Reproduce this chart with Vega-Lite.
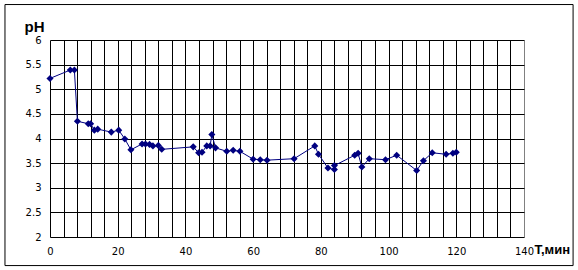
{
  "$schema": "https://vega.github.io/schema/vega-lite/v6.json",
  "width": 474,
  "height": 197,
  "autosize": "none",
  "padding": {"left": 50, "top": 40, "right": 54, "bottom": 33},
  "background": "white",
  "config": {"view": {"stroke": null}},
  "datasets": {
    "ph": [
      {"i": 1, "t": 0, "ph": 5.22},
      {"i": 2, "t": 6.0, "ph": 5.39},
      {"i": 3, "t": 7.2, "ph": 5.39},
      {"i": 4, "t": 8.1, "ph": 4.35},
      {"i": 5, "t": 11.3, "ph": 4.3},
      {"i": 6, "t": 12.0, "ph": 4.3},
      {"i": 7, "t": 13.1, "ph": 4.17},
      {"i": 8, "t": 14.1, "ph": 4.19},
      {"i": 9, "t": 18.1, "ph": 4.13},
      {"i": 10, "t": 20.3, "ph": 4.17},
      {"i": 11, "t": 22.1, "ph": 3.99},
      {"i": 12, "t": 23.9, "ph": 3.77},
      {"i": 13, "t": 27.2, "ph": 3.89},
      {"i": 14, "t": 28.2, "ph": 3.89},
      {"i": 15, "t": 29.4, "ph": 3.88},
      {"i": 16, "t": 30.4, "ph": 3.85},
      {"i": 17, "t": 32.0, "ph": 3.86},
      {"i": 18, "t": 33.0, "ph": 3.78},
      {"i": 19, "t": 42.3, "ph": 3.83},
      {"i": 20, "t": 43.9, "ph": 3.71},
      {"i": 21, "t": 44.9, "ph": 3.72},
      {"i": 22, "t": 46.3, "ph": 3.85},
      {"i": 23, "t": 47.3, "ph": 3.85},
      {"i": 24, "t": 47.8, "ph": 4.08},
      {"i": 25, "t": 48.9, "ph": 3.81},
      {"i": 26, "t": 52.2, "ph": 3.74},
      {"i": 27, "t": 54.1, "ph": 3.76},
      {"i": 28, "t": 56.1, "ph": 3.74},
      {"i": 29, "t": 60.0, "ph": 3.58},
      {"i": 30, "t": 62.1, "ph": 3.57},
      {"i": 31, "t": 64.1, "ph": 3.56},
      {"i": 32, "t": 72.1, "ph": 3.59},
      {"i": 33, "t": 78.2, "ph": 3.85},
      {"i": 34, "t": 79.3, "ph": 3.68},
      {"i": 35, "t": 82.1, "ph": 3.4},
      {"i": 36, "t": 84.0, "ph": 3.37},
      {"i": 37, "t": 84.0, "ph": 3.45},
      {"i": 38, "t": 90.0, "ph": 3.66},
      {"i": 39, "t": 91.0, "ph": 3.7},
      {"i": 40, "t": 92.1, "ph": 3.42},
      {"i": 41, "t": 94.3, "ph": 3.59},
      {"i": 42, "t": 99.1, "ph": 3.57},
      {"i": 43, "t": 102.4, "ph": 3.66},
      {"i": 44, "t": 108.3, "ph": 3.35},
      {"i": 45, "t": 110.3, "ph": 3.55},
      {"i": 46, "t": 112.9, "ph": 3.71},
      {"i": 47, "t": 117.0, "ph": 3.68},
      {"i": 48, "t": 119.0, "ph": 3.7},
      {"i": 49, "t": 120.0, "ph": 3.72}
    ],
    "frame": [{"t": -13.3, "t2": 154.5, "ph": 6.72, "ph2": 1.42}]
  },
  "encoding": {
    "x": {
      "field": "t", "type": "quantitative",
      "scale": {"domain": [0, 140], "nice": false, "zero": false},
      "axis": {
        "values": [0, 4, 8, 12, 16, 20, 24, 28, 32, 36, 40, 44, 48, 52, 56, 60, 64, 68, 72, 76, 80, 84, 88, 92, 96, 100, 104, 108, 112, 116, 120, 124, 128, 132, 136, 140],
        "labelExpr": "datum.value % 20 === 0 ? datum.label : ''",
        "grid": true,
        "gridColor": {"condition": {"test": "datum.value === 140", "value": "#808080"}, "value": "black"},
        "gridOpacity": 1,
        "gridWidth": 1,
        "domain": false,
        "ticks": false,
        "labelFont": "DejaVu Sans",
        "labelFontSize": 10,
        "labelColor": "black",
        "labelPadding": 9,
        "labelFlush": false,
        "labelOverlap": false,
        "title": "T,мин",
        "titleFont": "Liberation Sans",
        "titleFontSize": 13,
        "titleFontWeight": "bold",
        "titleColor": "black",
        "titleAlign": "left",
        "titleBaseline": "alphabetic",
        "titleAnchor": null,
        "titleX": 484,
        "titleY": 16
      }
    },
    "y": {
      "field": "ph", "type": "quantitative",
      "scale": {"domain": [2, 6], "nice": false, "zero": false},
      "axis": {
        "values": [2, 2.5, 3, 3.5, 4, 4.5, 5, 5.5, 6],
        "format": "~g",
        "grid": true,
        "gridColor": "black",
        "gridOpacity": 1,
        "gridWidth": 1,
        "domain": false,
        "ticks": false,
        "labelFont": "DejaVu Sans",
        "labelFontSize": 10,
        "labelColor": "black",
        "labelPadding": 9,
        "labelFlush": false,
        "labelOverlap": false,
        "title": "pH",
        "titleFont": "Liberation Sans",
        "titleFontSize": 15,
        "titleFontWeight": "bold",
        "titleColor": "black",
        "titleAngle": 0,
        "titleAlign": "center",
        "titleBaseline": "alphabetic",
        "titleAnchor": null,
        "titleX": -16,
        "titleY": -9
      }
    }
  },
  "layer": [
    {
      "data": {"name": "frame"},
      "mark": {"type": "rect", "fill": null, "stroke": "black", "strokeWidth": 1, "clip": false},
      "encoding": {
        "x2": {"field": "t2"},
        "y2": {"field": "ph2"}
      }
    },
    {
      "data": {"name": "ph"},
      "mark": {"type": "line", "color": "#000080", "strokeWidth": 1},
      "encoding": {
        "order": {"field": "i", "type": "quantitative"}
      }
    },
    {
      "data": {"name": "ph"},
      "mark": {"type": "point", "shape": "diamond", "filled": true, "color": "#000080", "size": 50, "opacity": 1}
    }
  ]
}
